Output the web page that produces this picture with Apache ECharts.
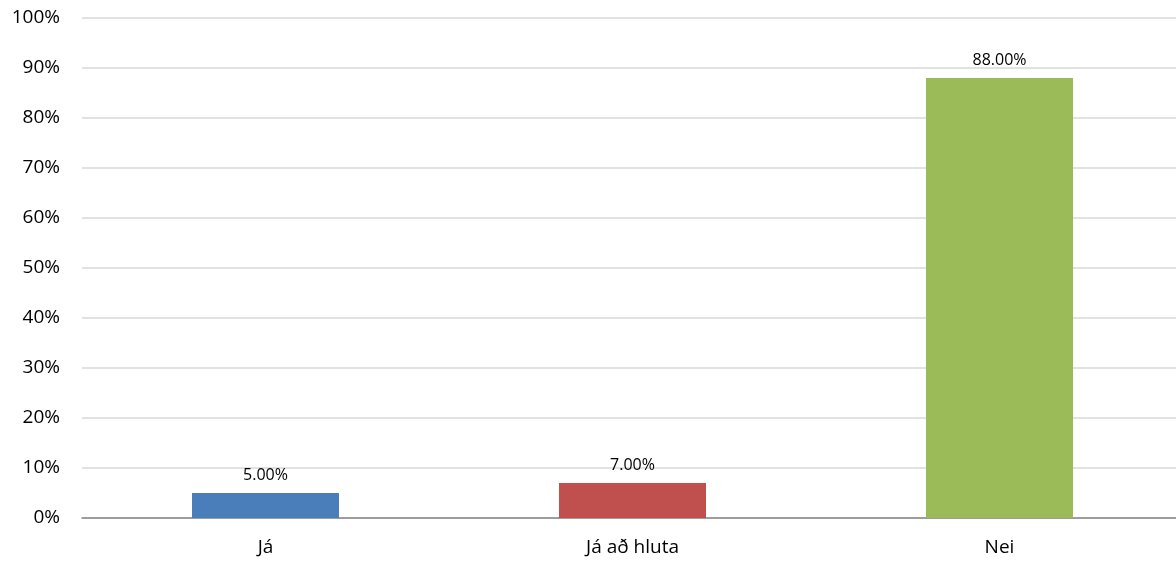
<!DOCTYPE html>
<html>
<head>
<meta charset="utf-8">
<script src="https://cdn.jsdelivr.net/npm/echarts@6/dist/echarts.min.js"></script>
<style>
  html, body { margin: 0; padding: 0; background: #fff; overflow: hidden; }
  #chart { width: 1183px; height: 561px; }
</style>
</head>
<body>
<div id="chart"></div>
<script>
var categories = ['Já', 'Já að hluta', 'Nei']
var values = [5, 7, 88]
var barColors = ['#4a7ebb', '#c0504d', '#9bbb59']

// plot area runs a little past the right edge of the window, like the original
var myChart = echarts.init(document.getElementById('chart'))
var option = {
  animation: false,
  grid: { left: 82, right: 0, top: 18, bottom: 43 },
  xAxis: {
    type: 'category',
    data: categories,
    axisTick: { show: false },
    axisLine: { lineStyle: { color: '#868686', width: 1.5 } },
    axisLabel: {
      color: '#000',
      fontSize: 19,
      fontFamily: 'Open Sans',
      margin: 20
    }
  },
  yAxis: {
    type: 'value',
    min: 0,
    max: 100,
    interval: 10,
    axisLine: { show: false },
    axisTick: { show: false },
    splitLine: { lineStyle: { color: '#d9d9d9', width: 1.5 } },
    axisLabel: {
      color: '#000',
      fontSize: 19,
      fontFamily: 'Open Sans',
      margin: 22,
      formatter: '{value}%'
    }
  },
  series: [{
    type: 'bar',
    barWidth: 147,
    data: values.map(function (v, i) {
      return { value: v, itemStyle: { color: barColors[i] } }
    }),
    label: {
      show: true,
      position: 'top',
      distance: 10,
      color: '#000',
      fontSize: 16,
      fontFamily: 'Open Sans',
      formatter: function (p) { return p.value.toFixed(2) + '%' }
    }
  }]
};

myChart.setOption(option);
</script>
</body>
</html>
